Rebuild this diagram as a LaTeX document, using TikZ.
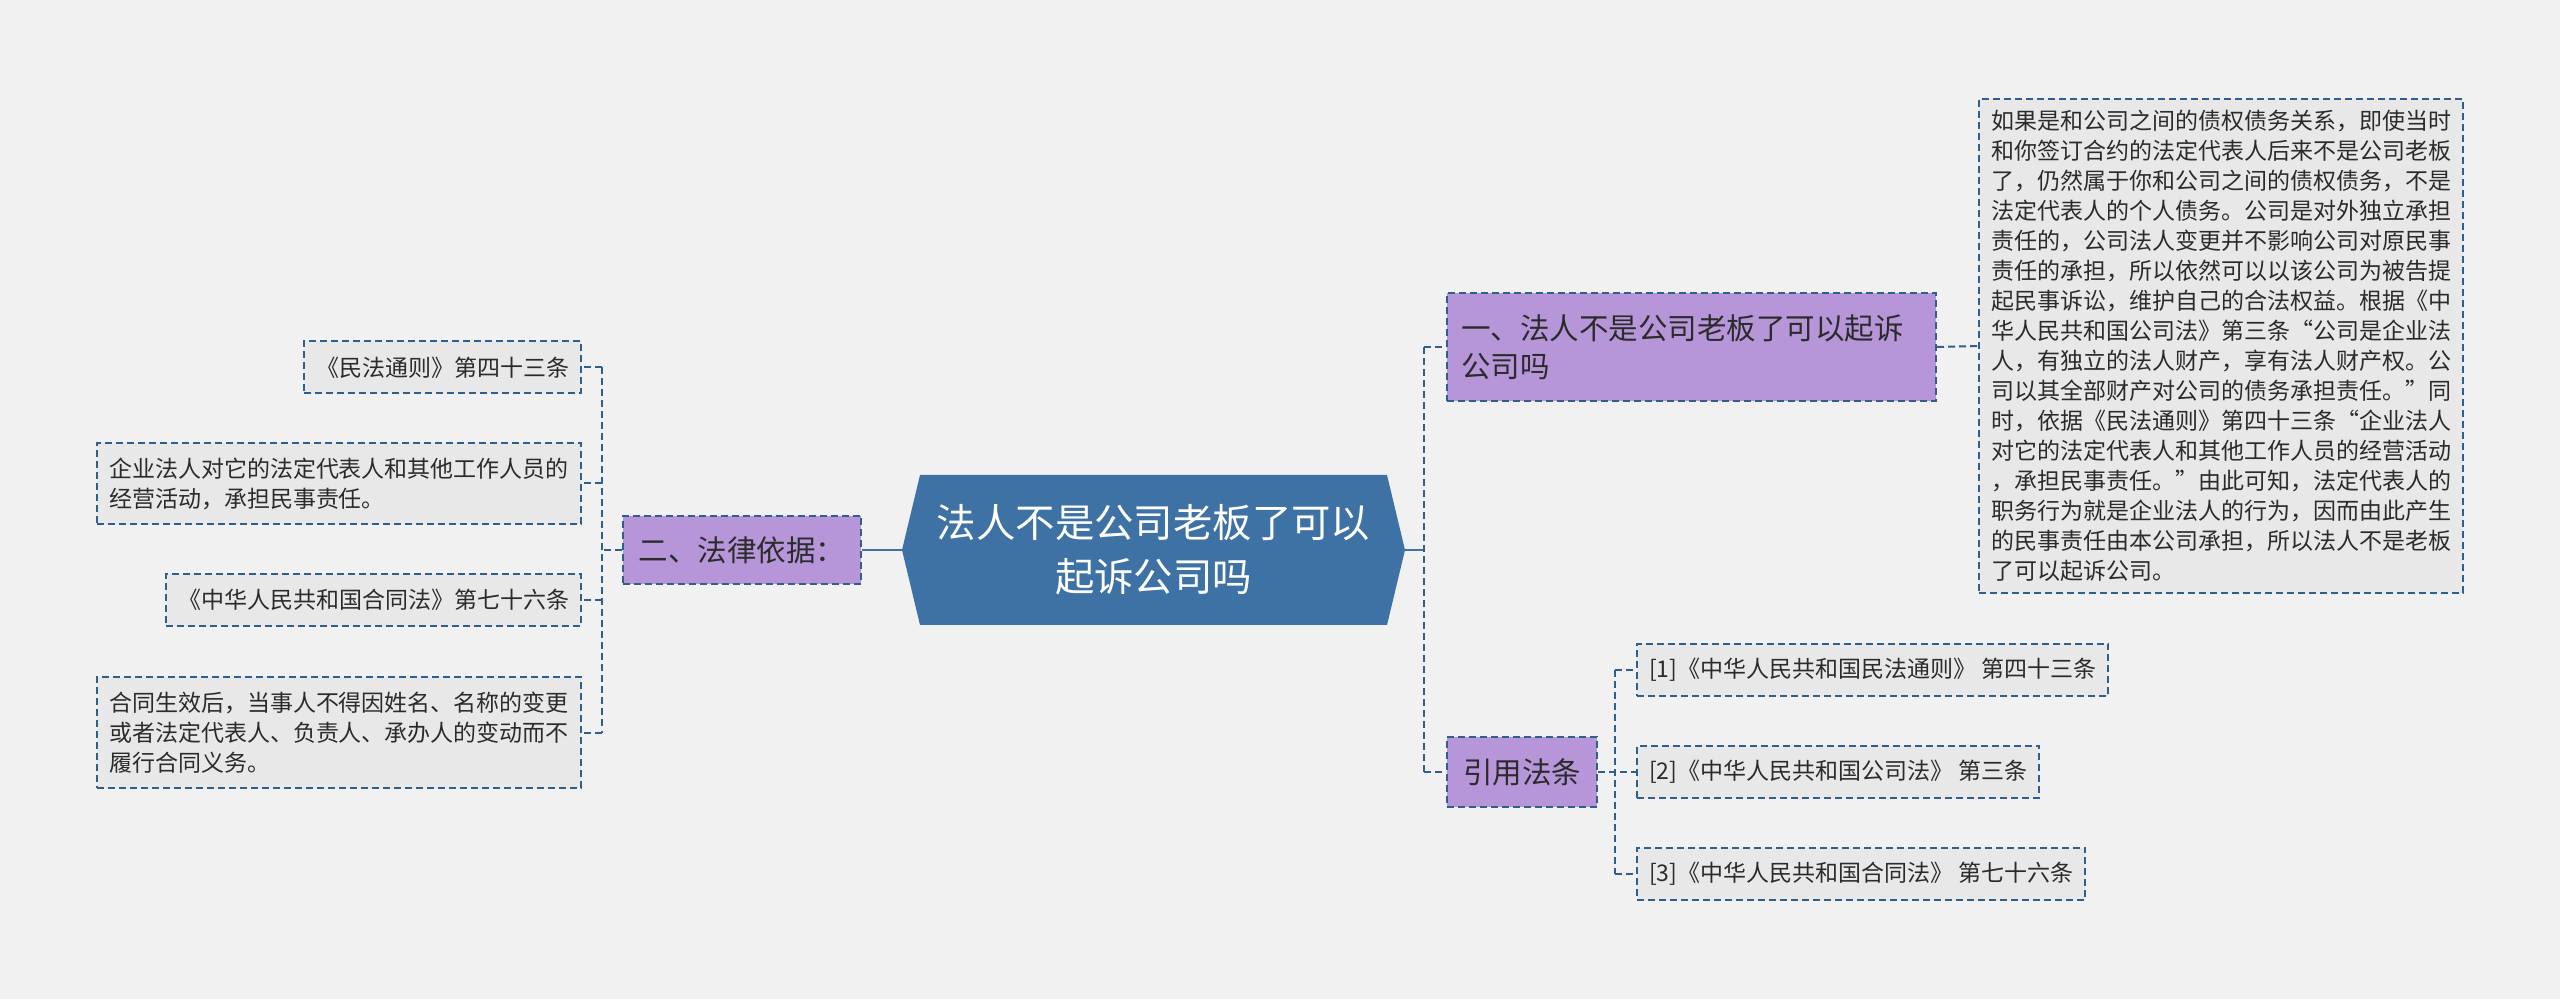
\documentclass[tikz,border=0pt]{standalone}
\usepackage{fontspec}
\setmainfont{Noto Sans CJK SC}
\usepackage{tikz}
\usetikzlibrary{shapes.symbols}
\definecolor{bgc}{HTML}{F1F1F1}
\definecolor{rootc}{HTML}{3E72A4}
\definecolor{subc}{HTML}{B696D9}
\definecolor{leafc}{HTML}{E8E8E8}
\definecolor{linec}{HTML}{2F5F8C}
\definecolor{txtc}{HTML}{2B2B2B}

\begin{document}
\begin{tikzpicture}[x=.5pt,y=-.5pt,
  link/.style={draw=linec,line width=1pt,dash pattern=on 3.5pt off 2pt},
  trunk/.style={draw=rootc,line width=1.1pt},
  topic/.style={fill=subc,draw=linec,line width=1pt,dash pattern=on 3.5pt off 2pt,
    text=txtc,font=\fontsize{14.75pt}{19pt}\selectfont,inner xsep=8pt,inner ysep=0pt},
  leaf/.style={fill=leafc,draw=linec,line width=1pt,dash pattern=on 3.5pt off 2pt,
    text=txtc,font=\fontsize{11.5pt}{15pt}\selectfont,inner xsep=6pt,inner ysep=0pt,
    minimum height=26pt}]
  \useasboundingbox (0,0) rectangle (2560,999);
  \fill[bgc] (0,0) rectangle (2560,999);

  \node[signal,signal to=east and west,signal pointer angle=153,fill=rootc,text=white,
    align=center,minimum width=251.5pt,minimum height=75pt,inner sep=0pt,
    font=\fontsize{19.7pt}{27pt}\selectfont] (root) at (1153.5,550)
    {法人不是公司老板了可以\\起诉公司吗};

  \node[topic,anchor=east,minimum height=34pt] (law) at (862,550) {二、法律依据：};
  \node[leaf,anchor=east] (mf) at (582,367.5) {《民法通则》第四十三条};
  \node[leaf,anchor=east,text width=230pt,align=left,minimum height=40.5pt] (qy) at (582,483.5)
    {企业法人对它的法定代表人和其他工作人员的\\经营活动，承担民事责任。};
  \node[leaf,anchor=east] (hf) at (582,600) {《中华人民共和国合同法》第七十六条};
  \node[leaf,anchor=east,text width=230pt,align=left,minimum height=55.5pt] (ht) at (582,732.5)
    {合同生效后，当事人不得因姓名、名称的变更\\或者法定代表人、负责人、承办人的变动而不\\履行合同义务。};

  \node[topic,anchor=west,text width=230.5pt,align=left,inner xsep=7pt,minimum height=54pt] (s1) at (1446,347)
    {一、法人不是公司老板了可以起诉\\公司吗};
  \node[leaf,anchor=west,text width=230pt,align=left,minimum height=247pt] (detail) at (1978,346)
    {如果是和公司之间的债权债务关系，即使当时\\和你签订合约的法定代表人后来不是公司老板\\了，仍然属于你和公司之间的债权债务，不是\\法定代表人的个人债务。公司是对外独立承担\\责任的，公司法人变更并不影响公司对原民事\\责任的承担，所以依然可以以该公司为被告提\\起民事诉讼，维护自己的合法权益。根据《中\\华人民共和国公司法》第三条“公司是企业法\\人，有独立的法人财产，享有法人财产权。公\\司以其全部财产对公司的债务承担责任。”同\\时，依据《民法通则》第四十三条“企业法人\\对它的法定代表人和其他工作人员的经营活动\\，承担民事责任。”由此可知，法定代表人的\\职务行为就是企业法人的行为，因而由此产生\\的民事责任由本公司承担，所以法人不是老板\\了可以起诉公司。};

  \node[topic,anchor=west,minimum height=35pt] (cite) at (1446,772) {引用法条};
  \node[leaf,anchor=west] (r1) at (1636,670) {[1]《中华人民共和国民法通则》 第四十三条};
  \node[leaf,anchor=west] (r2) at (1636,772) {[2]《中华人民共和国公司法》 第三条};
  \node[leaf,anchor=west] (r3) at (1636,874) {[3]《中华人民共和国合同法》 第七十六条};

  \coordinate (ltrunk) at (602,550);
  \coordinate (rtrunk) at (1424,550);
  \coordinate (ctrunk) at (1615,772);

  \draw[trunk] (root.west) -- (law.east);
  \draw[trunk] (root.east) -- (rtrunk);

  \draw[link] (law.west) -- (ltrunk);
  \draw[link] (ltrunk |- mf.east) -- (ltrunk |- ht.east);
  \foreach \n in {mf,qy,hf,ht}
    \draw[link] (ltrunk |- \n.east) -- (\n.east);

  \draw[link] (rtrunk |- s1.west) -- (rtrunk |- cite.west);
  \foreach \n in {s1,cite}
    \draw[link] (rtrunk |- \n.west) -- (\n.west);
  \draw[link] (s1.east) -- (detail.west);

  \draw[link] (cite.east) -- (r2.west);
  \draw[link] (ctrunk |- r1.west) -- (ctrunk |- r3.west);
  \foreach \n in {r1,r3}
    \draw[link] (ctrunk |- \n.west) -- (\n.west);
\end{tikzpicture}
\end{document}
